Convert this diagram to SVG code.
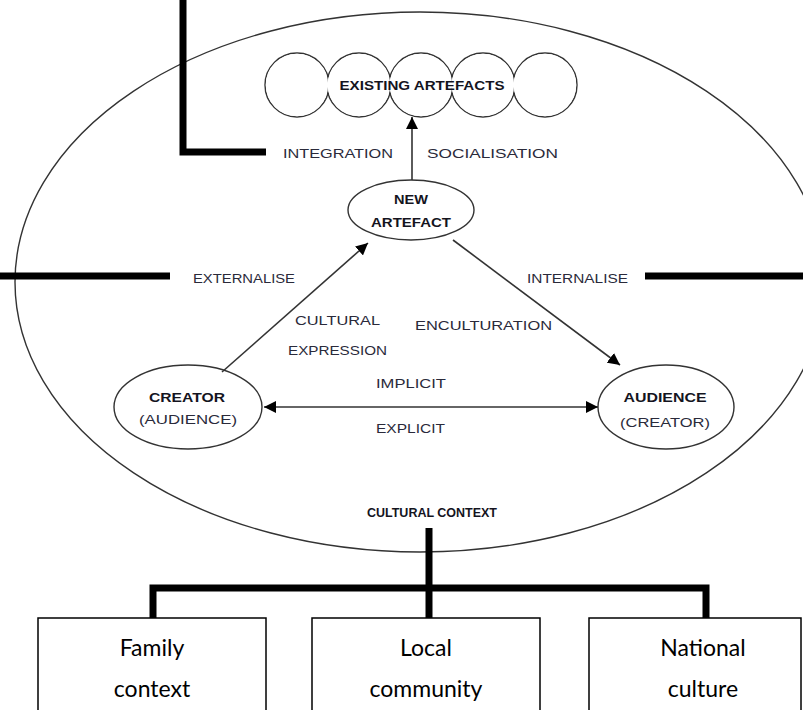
<svg xmlns="http://www.w3.org/2000/svg" width="803" height="710" viewBox="0 0 803 710">
  <style>
    .thin { fill: none; stroke: #333; stroke-width: 1.4; }
    .node { fill: #fff; stroke: #333; stroke-width: 1.4; }
    .thick { fill: none; stroke: #000; stroke-width: 7; stroke-linecap: butt; stroke-linejoin: miter; }
    .conn { fill: none; stroke: #333; stroke-width: 1.6; }
    .lbl { font-family: "Liberation Sans", Arial, sans-serif; font-size: 13px; fill: #2a2a3a; }
    .bold { font-family: "Liberation Sans", Arial, sans-serif; font-size: 13px; font-weight: bold; fill: #14141e; }
    .box { fill: #fff; stroke: #000; stroke-width: 1.5; }
    .boxtxt { font-family: Lato, "Liberation Sans", sans-serif; font-size: 23px; fill: #000; }
  </style>
  <defs>
    <marker id="arrowL" viewBox="0 0 10 10" refX="10" refY="5" markerWidth="12" markerHeight="12" markerUnits="userSpaceOnUse" orient="auto-start-reverse">
      <path d="M0,0 L10,5 L0,10 Z" fill="#000"/>
    </marker>
  </defs>

  <rect width="803" height="710" fill="#fff"/>

  <!-- cultural context boundary -->
  <g id="cultural-context">
    <ellipse cx="420" cy="282" rx="405" ry="270" class="thin"/>
    <text class="bold" x="432" y="517" text-anchor="middle" font-size="11" textLength="130" lengthAdjust="spacingAndGlyphs">CULTURAL CONTEXT</text>
  </g>

  <!-- thick link lines -->
  <g id="links">
    <path class="thick" d="M183,0 V152 H266"/>
    <path class="thick" d="M0,276 H170"/>
    <path class="thick" d="M645,276 H803"/>
    <path class="thick" d="M429,528 V618"/>
    <path class="thick" d="M153,618 V588 H706 V618"/>
  </g>

  <!-- existing artefacts: chain of circles drawn as one outline -->
  <g id="existing-artefacts">
    <g class="node">
      <circle cx="297" cy="85" r="32"/>
      <circle cx="359" cy="85" r="32"/>
      <circle cx="421" cy="85" r="32"/>
      <circle cx="483" cy="85" r="32"/>
      <circle cx="545" cy="85" r="32"/>
    </g>
    <g fill="#fff">
      <circle cx="297" cy="85" r="31.2"/>
      <circle cx="359" cy="85" r="31.2"/>
      <circle cx="421" cy="85" r="31.2"/>
      <circle cx="483" cy="85" r="31.2"/>
      <circle cx="545" cy="85" r="31.2"/>
    </g>
    <text class="bold" x="422" y="90" text-anchor="middle" textLength="165" lengthAdjust="spacingAndGlyphs">EXISTING ARTEFACTS</text>
  </g>

  <g id="new-artefact">
    <ellipse cx="411" cy="210" rx="63" ry="30" class="node"/>
    <text class="bold" x="411" y="204" text-anchor="middle" textLength="34" lengthAdjust="spacingAndGlyphs">NEW</text>
    <text class="bold" x="411" y="227" text-anchor="middle" textLength="80" lengthAdjust="spacingAndGlyphs">ARTEFACT</text>
  </g>

  <g id="creator">
    <ellipse cx="188" cy="407" rx="74" ry="42" class="node"/>
    <text class="bold" x="187" y="402" text-anchor="middle" textLength="76" lengthAdjust="spacingAndGlyphs">CREATOR</text>
    <text class="lbl" x="188" y="424" text-anchor="middle" textLength="98" lengthAdjust="spacingAndGlyphs">(AUDIENCE)</text>
  </g>

  <g id="audience">
    <ellipse cx="666" cy="407" rx="68" ry="42" class="node"/>
    <text class="bold" x="665" y="402" text-anchor="middle" textLength="83" lengthAdjust="spacingAndGlyphs">AUDIENCE</text>
    <text class="lbl" x="665" y="427" text-anchor="middle" textLength="90" lengthAdjust="spacingAndGlyphs">(CREATOR)</text>
  </g>

  <!-- connectors -->
  <g id="connectors">
    <line class="conn" x1="412" y1="180" x2="412" y2="117" marker-end="url(#arrowL)"/>
    <line class="conn" x1="222" y1="372" x2="368" y2="243" marker-end="url(#arrowL)"/>
    <line class="conn" x1="453" y1="240" x2="620" y2="365" marker-end="url(#arrowL)"/>
    <line class="conn" x1="264" y1="407" x2="598" y2="407" marker-start="url(#arrowL)" marker-end="url(#arrowL)"/>
  </g>

  <!-- process labels -->
  <g id="labels">
    <text class="lbl" x="283" y="158" textLength="110" lengthAdjust="spacingAndGlyphs">INTEGRATION</text>
    <text class="lbl" x="427" y="158" textLength="131" lengthAdjust="spacingAndGlyphs">SOCIALISATION</text>
    <text class="lbl" x="193" y="283" textLength="102" lengthAdjust="spacingAndGlyphs">EXTERNALISE</text>
    <text class="lbl" x="527" y="283" textLength="101" lengthAdjust="spacingAndGlyphs">INTERNALISE</text>
    <text class="lbl" x="295" y="325" textLength="85" lengthAdjust="spacingAndGlyphs">CULTURAL</text>
    <text class="lbl" x="288" y="355" textLength="99" lengthAdjust="spacingAndGlyphs">EXPRESSION</text>
    <text class="lbl" x="415" y="330" textLength="137" lengthAdjust="spacingAndGlyphs">ENCULTURATION</text>
    <text class="lbl" x="376" y="388" textLength="70" lengthAdjust="spacingAndGlyphs">IMPLICIT</text>
    <text class="lbl" x="376" y="433" textLength="69" lengthAdjust="spacingAndGlyphs">EXPLICIT</text>
  </g>

  <!-- context boxes -->
  <g id="family-context">
    <rect class="box" x="38" y="618" width="228" height="110"/>
    <text class="boxtxt" x="152" y="656" text-anchor="middle">Family</text>
    <text class="boxtxt" x="152" y="697" text-anchor="middle">context</text>
  </g>
  <g id="local-community">
    <rect class="box" x="312" y="618" width="228" height="110"/>
    <text class="boxtxt" x="426" y="656" text-anchor="middle">Local</text>
    <text class="boxtxt" x="426" y="697" text-anchor="middle">community</text>
  </g>
  <g id="national-culture">
    <rect class="box" x="589" y="618" width="212" height="110"/>
    <text class="boxtxt" x="703" y="656" text-anchor="middle">National</text>
    <text class="boxtxt" x="703" y="697" text-anchor="middle">culture</text>
  </g>
</svg>
